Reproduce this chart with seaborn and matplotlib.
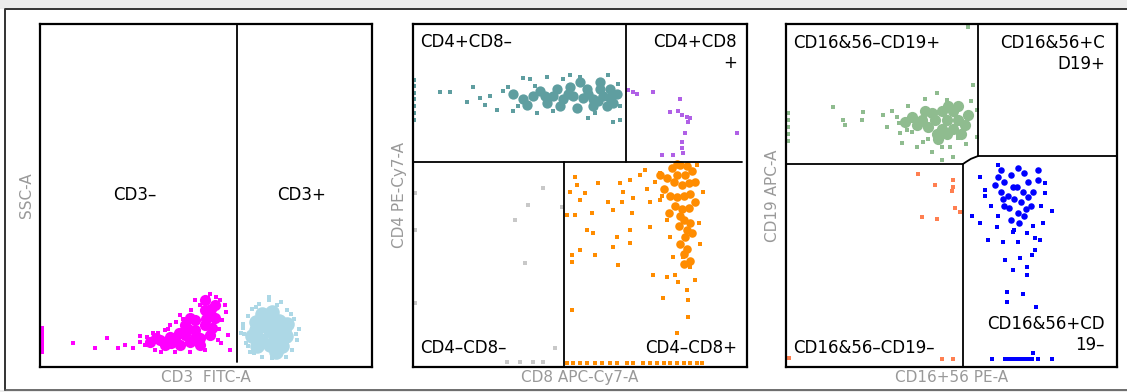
"""
Flow cytometry gating panels: CD3, CD4/CD8, CD16&56/CD19
"""

import matplotlib.pyplot as plt
import seaborn as sns
from matplotlib.patches import Rectangle

# ---- panel 1: SSC-A vs CD3 FITC-A ----
cd3neg_core_x = [407, 437, 467, 497, 512, 527, 452, 482, 512, 422, 376, 361, 497, 467, 437, 482, 518, 392, 331, 497, 527, 452,
                 500, 515, 470, 445, 420, 395, 350]
cd3neg_core_y = [79, 93, 108, 122, 152, 181, 73, 85, 93, 64, 64, 79, 166, 137, 122, 64, 114, 87, 73, 195, 143, 143,
                 140, 170, 90, 110, 100, 70, 85]
cd3neg_x = [99, 166, 202, 235, 256, 280, 301, 322, 346, 355, 407, 452, 497, 536, 548, 542, 512, 482, 422, 392, 566, 572, 557, 467, 376,
            300, 315, 340, 365, 385, 540, 530, 505, 455, 430, 410, 560, 545,
            5, 5, 5, 5, 5, 5, 5, 5]
cd3neg_y = [70, 55, 85, 55, 64, 55, 73, 87, 50, 99, 44, 44, 50, 79, 137, 195, 213, 181, 152, 122, 93, 50, 181, 195, 108,
            90, 65, 100, 45, 110, 110, 205, 200, 165, 140, 130, 160, 70,
            45, 55, 65, 75, 85, 95, 105, 115]
cd3pos_core_x = [693, 650, 735, 665, 720, 693, 665, 720, 693, 640, 745, 680, 705, 655, 730, 700, 670, 710, 650, 740]
cd3pos_core_y = [108, 108, 108, 135, 135, 150, 80, 80, 65, 90, 125, 120, 95, 60, 60, 160, 155, 45, 130, 90]
cd3pos_x = [605, 612, 620, 625, 632, 640, 660, 690, 715, 745, 765, 780, 775, 760, 740, 700, 670, 645, 615, 690,
            610, 628, 755, 770, 650, 725]
cd3pos_y = [100, 125, 70, 150, 45, 170, 185, 195, 180, 165, 140, 110, 80, 50, 30, 25, 30, 40, 95, 204,
            115, 60, 155, 95, 175, 190]

# ---- panel 2: CD4 PE-Cy7-A vs CD8 APC-Cy7-A ----
cd4pos_core_x = [420, 450, 480, 510, 540, 570, 590, 430, 470, 520, 560, 590, 440, 490, 540, 580, 400, 360, 330, 300, 380, 340, 560, 500, 600,
                 610, 525, 555, 465, 395]
cd4pos_core_y = [790, 780, 790, 785, 780, 790, 785, 810, 815, 810, 810, 810, 760, 755, 760, 760, 770, 790, 780, 795, 805, 765, 830, 830, 770,
                 795, 795, 775, 795, 790]
cd4pos_x = [81, 111, 162, 180, 329, 371, 524, 620, 599, 250, 300, 350, 400, 450, 500, 620, 610, 230, 270,
            200, 215, 285, 315, 365, 420, 470, 545, 585, 615,
            3, 3, 3, 3, 3, 3, 3]
cd4pos_y = [802, 802, 772, 816, 842, 740, 726, 720, 714, 750, 745, 840, 845, 840, 845, 760, 800, 790, 805,
            785, 765, 815, 760, 820, 745, 850, 740, 850, 825,
            720, 740, 760, 780, 800, 820, 836]
dp_x = [644, 659, 671, 719, 799, 769, 793, 805, 820, 829, 823, 814, 805, 805, 745, 778, 808, 970]
dp_y = [807, 802, 796, 802, 781, 743, 746, 735, 729, 726, 714, 682, 656, 638, 618, 618, 624, 682]
dn_x = [389, 344, 305, 335, 446, 425, 281, 320, 359, 389, 6, 6, 6]
dn_y = [522, 472, 428, 303, 466, 55, 15, 15, 15, 15, 507, 399, 187]
cd8pos_core_x = [800, 820, 790, 815, 835, 805, 825, 780, 810, 830, 790, 805, 825, 785, 810, 830, 795, 815, 835, 800, 820, 810,
                 770, 760, 845, 750, 740, 765, 845, 790, 810, 830, 775, 800, 820]
cd8pos_core_y = [590, 585, 560, 560, 570, 530, 535, 540, 500, 505, 495, 460, 465, 470, 430, 420, 410, 380, 390, 360, 345, 330,
                 500, 550, 540, 520, 560, 450, 480, 592, 300, 310, 580, 440, 400]
cd8pos_x = [485, 491, 470, 515, 554, 500, 461, 485, 536, 521, 539, 584, 620, 650, 629, 659, 626, 599, 656, 611, 650, 650,
            500, 476, 476, 545, 599, 614, 476, 680, 695, 740, 710, 710, 719, 760, 749, 784, 793, 820, 823, 823, 790,
            844, 868, 740, 808, 778, 829, 700, 725, 760, 770, 745, 855, 860, 850,
            460, 480, 500, 520, 545, 565, 590, 610, 640, 660, 690, 710, 730, 750, 770, 790, 810, 830, 850, 865]
cd8pos_y = [554, 531, 510, 507, 536, 487, 443, 443, 449, 399, 391, 481, 536, 545, 510, 493, 481, 458, 449, 379, 399, 361,
            341, 326, 306, 326, 350, 297, 166, 560, 574, 566, 481, 408, 268, 262, 201, 268, 248, 224, 195, 146, 99,
            254, 510, 487, 321, 321, 291, 520, 540, 430, 380, 500, 420, 360, 590,
            12, 12, 12, 12, 12, 12, 12, 12, 12, 12, 12, 12, 12, 12, 12, 12, 12, 12, 12, 12]

# ---- panel 3: CD19 APC-A vs CD16+56 PE-A ----
cd19_core_x = [486, 450, 520, 470, 505, 470, 505, 440, 540, 430, 550, 490, 485, 520, 455, 410, 395, 380, 360, 420, 530, 460]
cd19_core_y = [720, 720, 720, 745, 745, 695, 695, 740, 705, 700, 735, 760, 680, 760, 680, 720, 705, 730, 715, 745, 680, 665]
cd19_x = [142, 172, 178, 233, 230, 293, 305, 335, 344, 350, 381, 396, 414, 441, 471, 505, 495, 520, 577, 565, 577, 456, 486, 550,
          320, 340, 365, 370, 430, 545, 560, 420, 470,
          6, 6, 6, 6, 6]
cd19_y = [758, 720, 705, 743, 720, 735, 700, 729, 682, 653, 685, 641, 656, 627, 603, 612, 641, 668, 749, 822, 670, 799, 778, 991,
          745, 710, 690, 760, 665, 650, 775, 780, 640,
          740, 720, 700, 680, 660]
nk_dn_x = [399, 450, 505, 505, 501, 511, 526, 411, 456, 9, 471, 505]
nk_dn_y = [563, 531, 545, 525, 513, 463, 452, 437, 431, 26, 23, 23]
nk_core_x = [698, 660, 730, 650, 745, 680, 720, 690, 710, 640, 760, 670, 730, 700, 680, 720, 660, 740, 700, 650, 760, 630,
             715, 685, 675, 705, 725, 655]
nk_core_y = [525, 540, 540, 510, 510, 560, 565, 490, 480, 555, 545, 500, 495, 450, 430, 440, 470, 470, 580, 575, 575, 530,
             510, 525, 465, 420, 460, 490]
nk_x = [562, 586, 610, 637, 656, 686, 701, 728, 752, 767, 804, 782, 782, 586, 601, 662, 707, 728, 752, 686, 728, 668, 716,
        668, 755, 743, 620, 640, 770, 775, 690, 745, 640, 600,
        622, 662, 672, 682, 692, 702, 712, 722, 732, 742, 746, 761, 804]
nk_y = [440, 420, 370, 408, 364, 394, 364, 391, 376, 370, 455, 507, 536, 554, 516, 312, 318, 291, 341, 283, 268, 219, 213,
        190, 175, 326, 470, 440, 470, 420, 400, 410, 590, 500,
        23, 23, 23, 23, 23, 23, 23, 23, 23, 23, 41, 23, 23]

# gate boundaries (data units, 0-1000 scale)
gates = [
    [([593, 593], [15, 1000])],
    [([0, 985], [598, 598]), ([638, 638], [598, 1000]), ([452, 452], [0, 598])],
    [([580, 580], [615, 1000]), ([580, 1000], [615, 615]), ([0, 535], [592, 592]),
     ([535, 544, 559, 580], [592, 598, 607, 615]), ([535, 535], [0, 592])],
]

panel_labels = [
    [("CD3\u2013", 286, 501, "center", "center"), ("CD3+", 789, 501, "center", "center")],
    [("CD4+CD8\u2013", 21, 947, "left", "center"), ("CD4+CD8\n+", 970, 975, "right", "top"),
     ("CD4\u2013CD8\u2013", 21, 55, "left", "center"), ("CD4\u2013CD8+", 970, 55, "right", "center")],
    [("CD16&56\u2013CD19+", 21, 944, "left", "center"), ("CD16&56+C\nD19+", 964, 972, "right", "top"),
     ("CD16&56+CD\n19\u2013", 964, 152, "right", "top"), ("CD16&56\u2013CD19\u2013", 21, 55, "left", "center")],
]

x_titles = ["CD3  FITC-A", "CD8 APC-Cy7-A", "CD16+56 PE-A"]
y_titles = ["SSC-A", "CD4 PE-Cy7-A", "CD19 APC-A"]

# (x, y, colour, marker size, marker)
populations = [
    [(cd3neg_core_x, cd3neg_core_y, "#ff00ff", 65, "o"), (cd3neg_x, cd3neg_y, "#ff00ff", 6, "s"),
     (cd3pos_core_x, cd3pos_core_y, "#add8e6", 110, "o"), (cd3pos_x, cd3pos_y, "#add8e6", 6, "s")],
    [(cd4pos_core_x, cd4pos_core_y, "#5f9ea0", 55, "o"), (cd4pos_x, cd4pos_y, "#5f9ea0", 6, "s"),
     (dp_x, dp_y, "#b060e6", 7, "s"), (dn_x, dn_y, "#c8c8c8", 5, "s"),
     (cd8pos_core_x, cd8pos_core_y, "#ff8c00", 38, "o"), (cd8pos_x, cd8pos_y, "#ff8c00", 6, "s")],
    [(cd19_core_x, cd19_core_y, "#8fbc8f", 65, "o"), (cd19_x, cd19_y, "#8fbc8f", 6, "s"),
     (nk_dn_x, nk_dn_y, "#ff7f50", 6, "s"),
     (nk_core_x, nk_core_y, "#0000ff", 22, "o"), (nk_x, nk_y, "#0000ff", 6, "s")],
]

sns.set_style("white")
plt.rcParams['font.family'] = ['DejaVu Sans']

fig = plt.figure(figsize=(11.27, 3.92), dpi=100)
fig.patch.set_facecolor("white")

# outer frame and grey strip at top
fig.patches.append(Rectangle((0, 383 / 392), 1, 9 / 392, transform=fig.transFigure,
                             facecolor="#ececec", edgecolor="none", zorder=0))
fig.patches.append(Rectangle((0, 0), 1, 2 / 392, transform=fig.transFigure,
                             facecolor="#ececec", edgecolor="none", zorder=0))
fig.lines.append(plt.Line2D([5 / 1127, 5 / 1127, 1], [2 / 392, 383 / 392, 383 / 392],
                            transform=fig.transFigure, color="#333333", lw=1.4))
fig.lines.append(plt.Line2D([5 / 1127, 1], [2 / 392, 2 / 392],
                            transform=fig.transFigure, color="#555555", lw=1.2))

ax_boxes = [(40, 332), (413, 334), (786, 331)]
for i, (left, width) in enumerate(ax_boxes):
    ax = fig.add_axes([left / 1127, 25 / 392, width / 1127, 343 / 392])
    for xs, ys, color, size, mk in populations[i]:
        sns.scatterplot(x=xs, y=ys, ax=ax, color=color, s=size, marker=mk,
                        linewidth=0, legend=False, zorder=2)
    for gx, gy in gates[i]:
        ax.plot(gx, gy, color="black", lw=1.3, zorder=3)
    for text, tx, ty, ha, va in panel_labels[i]:
        ax.text(tx, ty, text, ha=ha, va=va, fontsize=12, color="black",
                multialignment="right" if ha == "right" else "left", linespacing=1.25, zorder=4)
    ax.set_xlim(0, 1000)
    ax.set_ylim(0, 1000)
    ax.set_xticks([])
    ax.set_yticks([])
    for sp in ax.spines.values():
        sp.set_visible(True)
        sp.set_color("black")
        sp.set_linewidth(1.6)
    ax.set_xlabel(x_titles[i], fontsize=11, color="#999999", labelpad=2)
    ax.set_ylabel(y_titles[i], fontsize=11, color="#999999", labelpad=4)

plt.savefig("out.png", dpi=100)
